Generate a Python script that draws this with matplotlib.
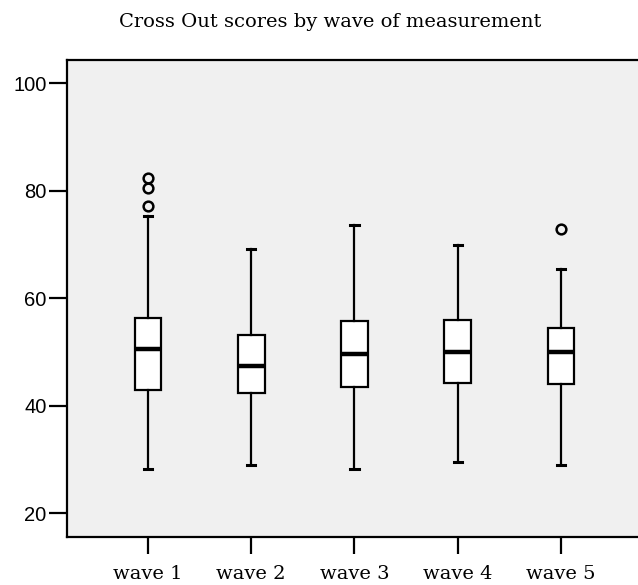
import matplotlib
matplotlib.use("Agg")
import matplotlib.pyplot as plt

# values (Cross Out scores)
waves = ["wave 1", "wave 2", "wave 3", "wave 4", "wave 5"]
whisker_low = [28.2, 28.9, 28.2, 29.6, 28.9]
q1 = [42.9, 42.3, 43.5, 44.3, 44.0]
medians = [50.5, 47.4, 49.7, 50.0, 50.0]
q3 = [56.4, 53.2, 55.7, 56.0, 54.5]
whisker_high = [75.2, 69.2, 73.7, 69.9, 65.4]
outliers = [[77.2, 80.5, 82.4], [], [], [], [72.9]]

stats = []
for i, name in enumerate(waves):
    stats.append(dict(label=name, whislo=whisker_low[i], q1=q1[i], med=medians[i],
                      q3=q3[i], whishi=whisker_high[i], fliers=outliers[i]))

fig = plt.figure(figsize=(6.38, 5.85), dpi=100)
fig.patch.set_facecolor("white")
ax = fig.add_axes([66.7 / 638, 48 / 585, 1 - 66.7 / 638, 477 / 585])
ax.set_facecolor("#f0f0f0")

ax.bxp(stats, positions=range(1, 6), widths=0.26, patch_artist=True,
       boxprops=dict(facecolor="white", edgecolor="black", linewidth=1.6),
       medianprops=dict(color="black", linewidth=3.2),
       whiskerprops=dict(color="black", linewidth=1.6),
       capprops=dict(color="black", linewidth=2.2),
       capwidths=0.08,
       flierprops=dict(marker="o", markersize=7, markerfacecolor="none",
                       markeredgecolor="black", markeredgewidth=1.8))

ax.set_xlim(0.213, 5.746)
ax.set_ylim(15.6, 104.3)
ax.set_yticks([20, 40, 60, 80, 100])

for side in ["left", "bottom", "top"]:
    ax.spines[side].set_linewidth(1.6)
ax.spines["right"].set_visible(False)

ax.tick_params(axis="y", direction="out", length=13, width=1.6, pad=1.5,
               labelsize=14.5)
ax.tick_params(axis="x", direction="out", length=12.5, width=1.6, pad=8,
               labelsize=14)
for lbl in ax.get_yticklabels():
    lbl.set_family("Liberation Sans")
for lbl in ax.get_xticklabels():
    lbl.set_family("DejaVu Serif")

fig.text(0.517, 1 - 22 / 585, "Cross Out scores by wave of measurement",
         ha="center", va="center", fontsize=14, family="DejaVu Serif")

fig.savefig("out.png", dpi=100)
